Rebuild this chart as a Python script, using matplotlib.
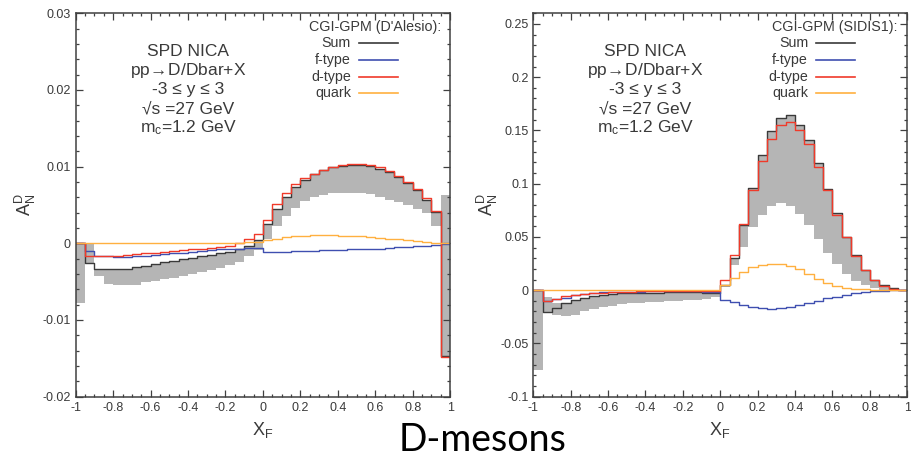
import numpy as np
import matplotlib
matplotlib.use("Agg")
import matplotlib.pyplot as plt
from matplotlib.ticker import MultipleLocator, FuncFormatter

plt.rcParams['font.family'] = ['Liberation Sans', 'DejaVu Sans']
plt.rcParams['mathtext.default'] = 'regular'
plt.rcParams['axes.unicode_minus'] = False

# -------------------------------
# DATA (40 bins in x_F, width 0.05)
# -------------------------------
xf_edges = np.linspace(-1, 1, 41)

# left panel: CGI-GPM (D'Alesio)
sum_dal = [0.0, -0.0026, -0.0033, -0.0034, -0.0034, -0.0033, -0.0031, -0.0029, -0.0027, -0.0025,
           -0.0023, -0.0021, -0.0019, -0.0017, -0.0015, -0.0013, -0.0011, -0.0008, -0.0003, 0.0004,
           0.0025, 0.0045, 0.0060, 0.0074, 0.0083, 0.0090, 0.0095, 0.0099, 0.0101, 0.0102,
           0.0102, 0.0101, 0.0097, 0.0093, 0.0086, 0.0078, 0.0069, 0.0057, 0.0041, -0.0147]
ftype_dal = [0.0, -0.0010, -0.0016, -0.0017, -0.0018, -0.0018, -0.0017, -0.0016, -0.0015, -0.0014,
             -0.0013, -0.0012, -0.0011, -0.0010, -0.0009, -0.0008, -0.0008, -0.0007, -0.0006, -0.0006,
             -0.0011, -0.0011, -0.0011, -0.0010, -0.0010, -0.0010, -0.0009, -0.0009, -0.0009, -0.0008,
             -0.0008, -0.0007, -0.0007, -0.0006, -0.0005, -0.0005, -0.0004, -0.0003, -0.0002, -0.0001]
dtype_dal = [0.0, -0.0016, -0.0017, -0.0017, -0.0016, -0.0015, -0.0014, -0.0013, -0.0012, -0.0011,
             -0.0010, -0.0009, -0.0008, -0.0007, -0.0006, -0.0005, -0.0003, 0.0000, 0.0005, 0.0012,
             0.0031, 0.0051, 0.0065, 0.0077, 0.0085, 0.0091, 0.0096, 0.0100, 0.0102, 0.0103,
             0.0103, 0.0102, 0.0099, 0.0094, 0.0088, 0.0080, 0.0071, 0.0059, 0.0042, -0.0148]
quark_dal = [0.0, 0.0, 0.0, 0.0, 0.0, 0.0, 0.0, 0.0, 0.0, 0.0,
             0.0, 0.0, 0.0, 0.0, 0.0, 0.0001, 0.0001, 0.0001, 0.0002, 0.0002,
             0.0004, 0.0006, 0.0008, 0.0009, 0.0010, 0.0011, 0.0011, 0.0011, 0.0010, 0.0010,
             0.0009, 0.0008, 0.0007, 0.0006, 0.0005, 0.0004, 0.0003, 0.0002, 0.0001, 0.0]
band_lo_dal = [-0.0078, -0.0026, -0.0043, -0.0053, -0.0055, -0.0055, -0.0054, -0.0051, -0.0049, -0.0047,
               -0.0045, -0.0042, -0.0040, -0.0037, -0.0035, -0.0032, -0.0028, -0.0024, -0.0017, -0.0009,
               0.0005, 0.0022, 0.0035, 0.0046, 0.0055, 0.0060, 0.0063, 0.0065, 0.0066, 0.0066,
               0.0066, 0.0064, 0.0061, 0.0057, 0.0054, 0.0050, 0.0045, 0.0039, 0.0023, -0.0147]
band_hi_dal = [0.0, 0.0, -0.0033, -0.0034, -0.0034, -0.0033, -0.0031, -0.0029, -0.0027, -0.0025,
               -0.0023, -0.0021, -0.0019, -0.0017, -0.0015, -0.0013, -0.0011, -0.0008, -0.0003, 0.0004,
               0.0025, 0.0045, 0.0060, 0.0074, 0.0083, 0.0090, 0.0095, 0.0099, 0.0101, 0.0102,
               0.0102, 0.0101, 0.0097, 0.0093, 0.0086, 0.0078, 0.0069, 0.0057, 0.0041, 0.0063]

# right panel: CGI-GPM (SIDIS1)
sum_sid = [0.0, -0.0203, -0.0163, -0.0125, -0.0094, -0.0072, -0.0056, -0.0044, -0.0036, -0.0030,
           -0.0027, -0.0025, -0.0023, -0.0022, -0.0021, -0.0020, -0.0020, -0.0020, -0.0022, -0.0028,
           0.0052, 0.0303, 0.0610, 0.0960, 0.1270, 0.1490, 0.1620, 0.1640, 0.1550, 0.1410,
           0.1190, 0.0950, 0.0720, 0.0500, 0.0330, 0.0190, 0.0100, 0.0044, 0.0016, 0.0003]
ftype_sid = [0.0, -0.0100, -0.0082, -0.0069, -0.0050, -0.0038, -0.0028, -0.0021, -0.0017, -0.0014,
             -0.0013, -0.0013, -0.0012, -0.0012, -0.0012, -0.0012, -0.0012, -0.0012, -0.0014, -0.0018,
             -0.0090, -0.0115, -0.0135, -0.0155, -0.0170, -0.0177, -0.0172, -0.0158, -0.0142, -0.0122,
             -0.0100, -0.0078, -0.0060, -0.0043, -0.0030, -0.0020, -0.0012, -0.0006, -0.0003, -0.0001]
dtype_sid = [0.0, -0.0103, -0.0081, -0.0056, -0.0044, -0.0034, -0.0028, -0.0023, -0.0019, -0.0016,
             -0.0014, -0.0012, -0.0011, -0.0010, -0.0009, -0.0008, -0.0008, -0.0008, -0.0008, -0.0010,
             0.0094, 0.0334, 0.0620, 0.0940, 0.1210, 0.1420, 0.1550, 0.1580, 0.1500, 0.1370,
             0.1160, 0.0940, 0.0710, 0.0500, 0.0325, 0.0185, 0.0095, 0.0041, 0.0014, 0.0003]
quark_sid = [0.0, 0.0, 0.0, 0.0, 0.0, 0.0, 0.0, 0.0, 0.0, 0.0,
             0.0, 0.0, 0.0, 0.0, 0.0, 0.0, 0.0, 0.0, 0.0002, 0.0005,
             0.0050, 0.0110, 0.0170, 0.0220, 0.0240, 0.0250, 0.0245, 0.0230, 0.0195, 0.0150,
             0.0105, 0.0068, 0.0042, 0.0025, 0.0015, 0.0009, 0.0005, 0.0002, 0.0001, 0.0]
band_lo_sid = [-0.0750, -0.0203, -0.0234, -0.0240, -0.0234, -0.0194, -0.0175, -0.0160, -0.0145, -0.0133,
               -0.0125, -0.0120, -0.0115, -0.0110, -0.0105, -0.0100, -0.0096, -0.0090, -0.0085, -0.0060,
               0.0030, 0.0234, 0.0408, 0.0590, 0.0706, 0.0787, 0.0815, 0.0790, 0.0712, 0.0610,
               0.0485, 0.0350, 0.0250, 0.0150, 0.0090, 0.0050, 0.0020, 0.0006, 0.0002, 0.0001]
band_hi_sid = [0.0, -0.0060, -0.0116, -0.0125, -0.0094, -0.0072, -0.0056, -0.0044, -0.0036, -0.0030,
               -0.0027, -0.0025, -0.0023, -0.0022, -0.0021, -0.0020, -0.0020, -0.0020, -0.0022, -0.0028,
               0.0052, 0.0303, 0.0610, 0.0960, 0.1270, 0.1490, 0.1620, 0.1640, 0.1550, 0.1410,
               0.1190, 0.0950, 0.0720, 0.0500, 0.0330, 0.0190, 0.0100, 0.0044, 0.0016, 0.0003]

labels = ["Sum", "f-type", "d-type", "quark"]
colors = ["#3a3a3a", "#3f4fb0", "#f03a2a", "#ffb040"]
text_col = "#3a3a3a"
band_col = "#b5b5b5"

info_lines = ["SPD NICA", r"pp$\!\rightarrow\!$D/Dbar+X", "-3 ≤ y ≤ 3", "√s =27 GeV",
              "m$_c$=1.2 GeV"]


def ext(v):
    # repeat last value so step='post' covers the last bin
    return np.append(v, v[-1])


def panel(ax, series, lo, hi, title, ylim, ymaj, ymin):
    ax.fill_between(xf_edges, ext(lo), ext(hi), step='post', color=band_col, lw=0, zorder=1)
    for vals, c in zip(series, colors):
        ax.step(xf_edges, ext(vals), where='post', color=c, lw=1.0, zorder=2)

    ax.set_xlim(-1, 1)
    ax.set_ylim(*ylim)
    ax.xaxis.set_major_locator(MultipleLocator(0.2))
    ax.xaxis.set_minor_locator(MultipleLocator(0.05))
    ax.yaxis.set_major_locator(MultipleLocator(ymaj))
    ax.yaxis.set_minor_locator(MultipleLocator(ymin))
    fmt = FuncFormatter(lambda v, p: "%g" % round(v, 4))
    ax.xaxis.set_major_formatter(fmt)
    ax.yaxis.set_major_formatter(fmt)
    ax.tick_params(which='both', direction='in', top=True, right=True, color="#404040",
                   labelcolor=text_col, labelsize=9, width=0.9)
    ax.tick_params(which='major', length=5)
    ax.tick_params(which='minor', length=2.5)
    for s in ax.spines.values():
        s.set_color("#404040")
        s.set_linewidth(1.1)

    # info block
    ys = [0.899, 0.850, 0.800, 0.750, 0.701]
    for t, y in zip(info_lines, ys):
        ax.text(0.30, y, t, transform=ax.transAxes, ha='center', va='center',
                fontsize=12.5, color=text_col)

    # key
    ax.text(0.975, 0.965, title, transform=ax.transAxes,
            ha='right', va='center', fontsize=10.3, color=text_col)
    key_y = [0.922, 0.878, 0.835, 0.791]
    for lab, c, y in zip(labels, colors, key_y):
        ax.text(0.735, y, lab, transform=ax.transAxes, ha='right', va='center',
                fontsize=10.3, color=text_col)
        ax.plot([0.757, 0.860], [y, y], transform=ax.transAxes, color=c, lw=1.2)


fig = plt.figure(figsize=(9.11, 4.57), dpi=100)
ax1 = fig.add_axes([0.0831, 0.132, 0.411, 0.839])
ax2 = fig.add_axes([0.5854, 0.132, 0.4105, 0.839])

panel(ax1, [sum_dal, ftype_dal, dtype_dal, quark_dal], band_lo_dal, band_hi_dal,
      "CGI-GPM (D'Alesio):", (-0.02, 0.03), 0.01, 0.002)
panel(ax2, [sum_sid, ftype_sid, dtype_sid, quark_sid], band_lo_sid, band_hi_sid,
      "CGI-GPM (SIDIS1):", (-0.1, 0.26), 0.05, 0.01)

# axis labels
for x in [25 / 911, 487 / 911]:
    fig.text(x, 1 - 205 / 457, r'$A_N^D$', rotation=90, ha='center', va='center',
             fontsize=13, color=text_col)
for x in [263 / 911, 720 / 911]:
    fig.text(x, 1 - 430 / 457, r'$X_F$', ha='center', va='center', fontsize=13, color=text_col)

fig.text(483 / 911, 1 - 440 / 457, "D-mesons", ha='center', va='center',
         fontsize=27, family=['Lato', 'DejaVu Sans'], color='black')

fig.savefig("out.png", dpi=100)
